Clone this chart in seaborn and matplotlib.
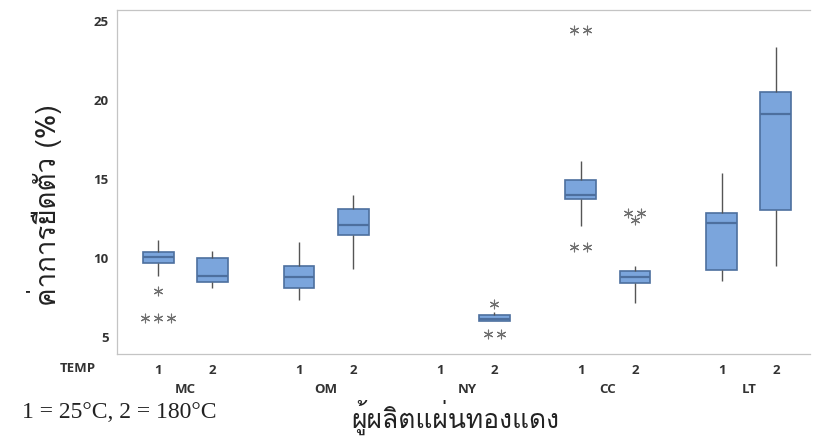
import numpy as np
import pandas as pd
import matplotlib
matplotlib.use("Agg")
import matplotlib.pyplot as plt
import matplotlib.transforms as mtransforms
from matplotlib import font_manager as fm
import seaborn as sns

# ---------------- data ----------------
manufacturers = ["MC", "OM", "NY", "CC", "LT"]
temps = [1, 2]
# one entry per (manufacturer, temp); None = no data
group_keys = [("MC", 1), ("MC", 2), ("OM", 1), ("OM", 2), ("NY", 1),
              ("NY", 2), ("CC", 1), ("CC", 2), ("LT", 1), ("LT", 2)]
whisker_low = [8.88, 8.07, 7.34, 9.28, None, 6.00, 12.03, 7.17, 8.54, 9.50]
q1 =          [9.68, 8.48, 8.08, 11.44, None, 5.98, 13.76, 8.40, 9.22, 13.04]
median =      [10.03, 8.83, 8.82, 12.09, None, 6.16, 13.97, 8.82, 12.21, 19.11]
q3 =          [10.36, 10.02, 9.51, 13.08, None, 6.36, 14.94, 9.20, 12.84, 20.49]
whisker_high = [11.16, 10.43, 10.99, 13.99, None, 6.60, 16.16, 9.51, 15.36, 23.34]
outliers = [[7.88, 6.20, 6.20, 6.20], [], [], [], [], [7.09, 5.17, 5.17],
            [24.45, 24.45, 10.72, 10.72], [12.85, 12.85, 12.42], [], []]

temp_note = "1 = 25°C, 2 = 180°C"
x_title = "ผู้ผลิตแผ่นทองแดง"
y_title = "ค่าการยืดตัว (%)"
y_ticks = [5, 10, 15, 20, 25]

# ---------------- fonts ----------------
thai_family = None
try:
    from fontTools.ttLib import TTFont
    for f in fm.fontManager.ttflist:
        try:
            tt = TTFont(f.fname, fontNumber=0, lazy=True)
            cmap = tt.getBestCmap()
            if cmap and 0x0E04 in cmap and 0x0E22 in cmap:
                thai_family = f.name
                break
        except Exception:
            pass
except Exception:
    pass
thai_fams = ([thai_family] if thai_family else []) + ["DejaVu Sans"]

sns.set_theme(style="white")
plt.rcParams["font.family"] = ["Open Sans", "DejaVu Sans"]

# ---------------- layout positions ----------------
group_gap = 2.6
positions = [manufacturers.index(m) * group_gap + (t - 1) for m, t in group_keys]

rows = []
for i, pos in enumerate(positions):
    if whisker_low[i] is None:
        continue
    for v in (whisker_low[i], q1[i], median[i], q3[i], whisker_high[i]):
        rows.append({"pos": pos, "value": v})
df = pd.DataFrame(rows)

W, H = 813, 436
fig = plt.figure(figsize=(W / 100, H / 100), dpi=100)
ax = fig.add_axes([117 / W, 1 - 354 / H, (810 - 117) / W, (354 - 10) / H])

fill = "#7ba5dc"
edge = "#4d6f9e"
sns.boxplot(data=df, x="pos", y="value", native_scale=True, whis=(0, 100),
            width=0.57, color=fill, saturation=1, linecolor=edge, linewidth=1.2,
            showcaps=False, fliersize=0, ax=ax,
            whiskerprops={"color": "#555555", "linewidth": 1.0},
            medianprops={"color": edge, "linewidth": 1.6})

# outliers: identical values placed side by side
ox, oy = [], []
for i, pos in enumerate(positions):
    vals = outliers[i]
    uniq = []
    for v in vals:
        if v not in uniq:
            uniq.append(v)
    for u in uniq:
        n = vals.count(u)
        for k in range(n):
            ox.append(pos + (k - (n - 1) / 2) * 0.24)
            oy.append(u)
sns.scatterplot(x=ox, y=oy, marker=(6, 2, 0), s=40, color="#707070",
                linewidth=0.8, ax=ax, zorder=5)

ax.set_xlim(-0.76, 12.03)
ax.set_ylim(3.92, 25.70)
ax.set_yticks(y_ticks)
ax.set_yticklabels([str(t) for t in y_ticks], fontsize=9.5, fontweight="bold",
                   color="#333333")
ax.set_xticks(positions)
ax.set_xticklabels([str(t) for _, t in group_keys], fontsize=9.5,
                   fontweight="bold", color="#333333")
ax.tick_params(axis="both", which="both", length=3, width=0.8, color="#9a9a9a",
               direction="out")
ax.tick_params(axis="x", pad=4)
ax.tick_params(axis="y", pad=3)
ax.set_xlabel("")
ax.set_ylabel("")
for s in ["left", "bottom", "top"]:
    ax.spines[s].set_color("#c4c4c4")
    ax.spines[s].set_linewidth(0.9)
ax.spines["right"].set_visible(False)

trans = mtransforms.blended_transform_factory(ax.transData, fig.transFigure)
for gi, m in enumerate(manufacturers):
    cx = gi * group_gap + 0.5
    ax.text(cx, 1 - 389 / H, m, transform=trans, ha="center", va="center",
            fontsize=9.5, fontweight="bold", color="#333333")
fig.text(78 / W, 1 - 368 / H, "TEMP", ha="center", va="center", fontsize=9.5,
         fontweight="bold", color="#333333")
fig.text(22 / W, 1 - 412 / H, temp_note, ha="left", va="center", fontsize=17,
         family=["Liberation Serif", "DejaVu Serif"], color="#222222")
fig.text(455 / W, 1 - 417 / H, x_title, ha="center", va="center", fontsize=19,
         family=thai_fams, color="#222222")
fig.text(45 / W, 1 - 205 / H, y_title, ha="center", va="center", fontsize=20,
         rotation=90, family=thai_fams, color="#222222")

fig.savefig("out.png", dpi=100)
